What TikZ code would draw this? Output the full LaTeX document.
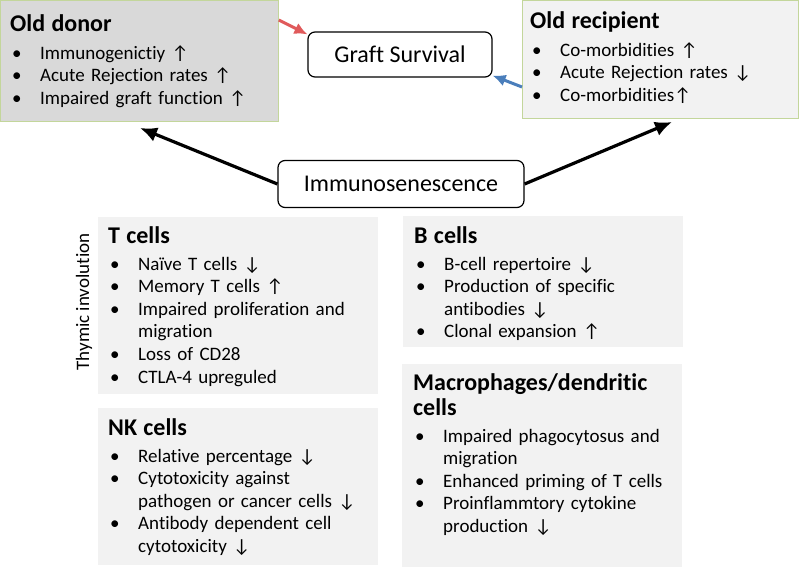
\documentclass[tikz,border=0pt]{standalone}
\usepackage{fontspec}
\setmainfont{Carlito}[Ligatures={NoCommon,NoContextual}, Contextuals=NoAlternate]
\usetikzlibrary{arrows.meta}
\definecolor{donorgray}{HTML}{D9D9D9}
\definecolor{panelgray}{HTML}{F2F2F2}
\definecolor{olivegreen}{HTML}{C3D69B}
\definecolor{graftred}{HTML}{E05A5B}
\definecolor{graftblue}{HTML}{4A7EBB}
\newcommand{\ttl}[1]{{\fontsize{24}{25}\selectfont\bfseries #1\par}\vspace{4.5pt}}
\newcommand{\itm}[1]{\hangindent=30pt\hangafter=1\noindent\hspace*{2pt}\makebox[28pt][l]{\textbullet}#1\par}

\tikzset{
  panel/.style={fill=panelgray, inner sep=0pt, anchor=north west},
  agepanel/.style={panel, draw=olivegreen, line width=0.8pt},
  paneltext/.style={anchor=base west, inner sep=0pt, text width=300pt, align=left,
    font=\fontsize{19}{22.6}\selectfont},
  roundbox/.style={draw, fill=white, rounded corners=7pt, line width=1.2pt, inner sep=0pt,
    font=\fontsize{24}{28}\selectfont},
  bigarrow/.style={-{Latex[length=17pt,width=15pt]}, line width=3.2pt},
  graftarrow/.style={-{Latex[length=13pt,width=12pt]}, line width=3pt},
}

\begin{document}
\begin{tikzpicture}[x=1pt,y=-1pt]
  \useasboundingbox (0,0) rectangle (800,567);
  % age boxes
  \node[agepanel, fill=donorgray, minimum width=278pt, minimum height=121pt] (donor) at (0,0) {};
  \node[agepanel, minimum width=276pt, minimum height=118pt] (recipient) at (522,0) {};
  \node[paneltext] (donortxt) at (10,32) {\ttl{Old donor}
    \itm{Immunogenictiy ↑}
    \itm{Acute Rejection rates ↑}
    \itm{Impaired graft function ↑}};
  \node[paneltext] (recipienttxt) at (530,29) {\ttl{Old recipient}
    \itm{Co-morbidities ↑}
    \itm{Acute Rejection rates ↓}
    \itm{Co-morbidities↑}};
  % cell boxes
  \node[panel, minimum width=280pt, minimum height=177pt] (tcell) at (98,217) {};
  \node[panel, minimum width=280pt, minimum height=131pt] (bcell) at (403,216) {};
  \node[panel, minimum width=280pt, minimum height=157pt] (nkcell) at (98,408) {};
  \node[panel, minimum width=280pt, minimum height=203pt] (macro) at (402,364) {};
  \node[paneltext] (tcelltxt) at (108,243) {\ttl{T cells}
    \itm{Naïve T cells ↓}
    \itm{Memory T cells ↑}
    \itm{Impaired proliferation and\newline migration}
    \itm{Loss of CD28}
    \itm{CTLA-4 upreguled}};
  \node[paneltext] (bcelltxt) at (414,243) {\ttl{B cells}
    \itm{B-cell repertoire ↓}
    \itm{Production of specific\newline antibodies ↓}
    \itm{Clonal expansion ↑}};
  \node[paneltext] (nktxt) at (108,435) {\ttl{NK cells}
    \itm{Relative percentage ↓}
    \itm{Cytotoxicity against\newline pathogen or cancer cells ↓}
    \itm{Antibody dependent cell\newline cytotoxicity ↓}};
  \node[paneltext] (macrotxt) at (413,390) {\ttl{Macrophages/dendritic\\cells}
    \itm{Impaired phagocytosus and\newline migration}
    \itm{Enhanced priming of T cells}
    \itm{Proinflammtory cytokine\newline production ↓}};
  \node[rotate=90, font=\fontsize{19}{22}\selectfont] (thymic) at (84,302) {Thymic involution};
  % centre boxes
  \node[roundbox, minimum width=184pt, minimum height=45pt] (graft) at (400,54.5) {Graft Survival};
  \node[roundbox, minimum width=246pt, minimum height=47pt] (immuno) at (401,184) {Immunosenescence};
  \coordinate (donortip) at (140,128);
  \coordinate (recipienttip) at (672,122);
  \draw[bigarrow] (immuno.west) -- (donortip);
  \draw[bigarrow] (immuno.east) -- (recipienttip);
  \draw[graftarrow, graftred] ([yshift=-20pt]donor.north east) -- ([yshift=-3pt]graft.north west);
  \draw[graftarrow, graftblue] ([yshift=-87pt]recipient.north west) -- ([yshift=2pt]graft.south east);
\end{tikzpicture}
\end{document}
